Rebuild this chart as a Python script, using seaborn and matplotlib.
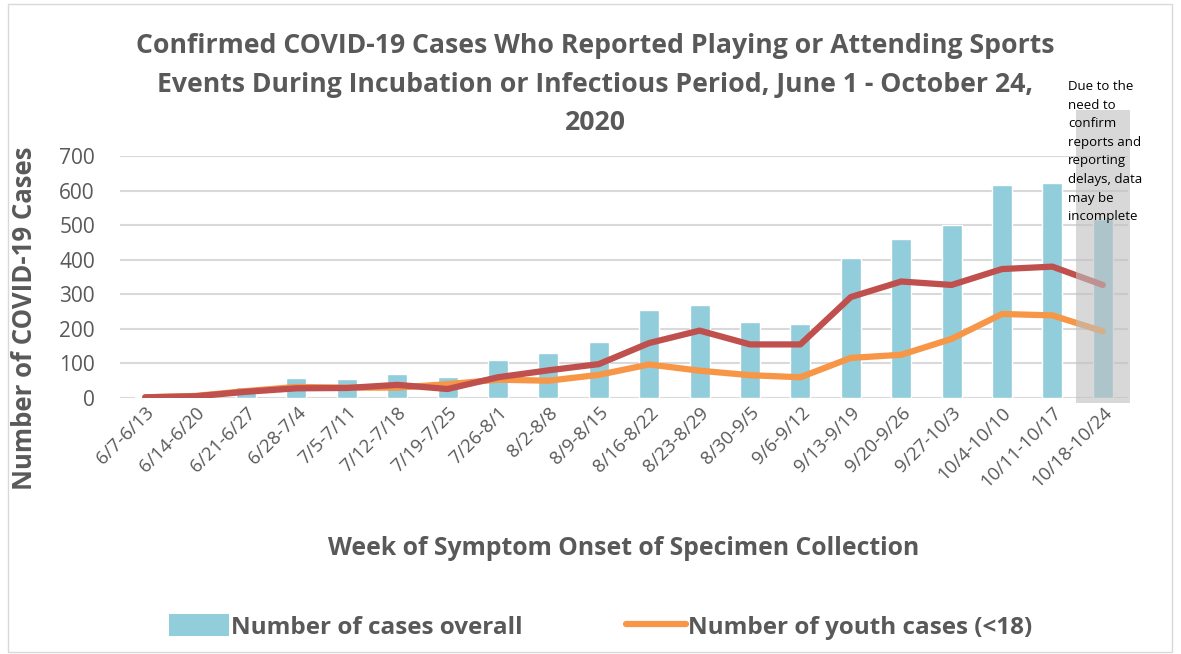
import numpy as np
import pandas as pd
import matplotlib
matplotlib.use("Agg")
import matplotlib.pyplot as plt
import seaborn as sns
from matplotlib.patches import Rectangle, Patch
from matplotlib.lines import Line2D

weeks = ["6/7-6/13", "6/14-6/20", "6/21-6/27", "6/28-7/4", "7/5-7/11", "7/12-7/18",
         "7/19-7/25", "7/26-8/1", "8/2-8/8", "8/9-8/15", "8/16-8/22", "8/23-8/29",
         "8/30-9/5", "9/6-9/12", "9/13-9/19", "9/20-9/26", "9/27-10/3", "10/4-10/10",
         "10/11-10/17", "10/18-10/24"]
overall = [2, 4, 33, 59, 56, 70, 61, 111, 131, 163, 254, 270, 219, 213, 406, 459, 499, 615, 621, 519]
adult = [2, 5, 18, 28, 29, 38, 26, 60, 80, 98, 159, 195, 155, 155, 292, 337, 327, 373, 380, 327]
youth = [2, 6, 20, 32, 30, 30, 40, 53, 50, 67, 97, 79, 66, 60, 116, 125, 171, 243, 239, 193]

BLUE = "#92CDDC"
RED = "#C0504D"
ORANGE = "#F79646"
GREY_TXT = "#595959"

sns.set_theme(style="white")
plt.rcParams['font.family'] = ['Open Sans', 'DejaVu Sans']

fig = plt.figure(figsize=(11.81, 6.54), dpi=100)
ax = fig.add_axes([120/1181, 1 - 398/654, 1008/1181, 242/654])

df = pd.DataFrame({"week": weeks, "overall": overall, "adult": adult, "youth": youth})
df["pos"] = np.arange(len(weeks))

sns.barplot(data=df, x="week", y="overall", color=BLUE, width=0.4, ax=ax,
            saturation=1, zorder=2)
sns.lineplot(data=df, x="pos", y="youth", color=ORANGE, linewidth=4.5, ax=ax, zorder=3)
sns.lineplot(data=df, x="pos", y="adult", color=RED, linewidth=4.5, ax=ax, zorder=4)

ax.set_xlim(-0.5, len(weeks) - 0.5)
ax.set_ylim(0, 700)
ax.set_yticks(np.arange(0, 701, 100))
ax.yaxis.grid(True, color="#D9D9D9", linewidth=1.5, zorder=0)
ax.set_axisbelow(True)
for s in ax.spines.values():
    s.set_visible(False)
ax.tick_params(axis="y", labelsize=15, colors=GREY_TXT, length=0, pad=18)
ax.tick_params(axis="x", labelsize=13.5, colors=GREY_TXT, length=0, pad=4)
ax.set_xticks(np.arange(len(weeks)))
ax.set_xticklabels(weeks, rotation=45, ha="right", rotation_mode="anchor")
ax.set_xlabel("Week of Symptom Onset of Specimen Collection", fontsize=17.8,
              fontweight="bold", color=GREY_TXT, labelpad=32)
ax.set_ylabel("Number of COVID-19 Cases", fontsize=18.5, fontweight="bold",
              color=GREY_TXT)
ax.yaxis.set_label_coords((38 - 120) / 1008, (398 - 318) / 242)

# grey shaded area over the last (incomplete) week
n = len(weeks)
rect = Rectangle((n - 1 - 0.53, -14), 1.07, 848, facecolor="#BFBFBF", alpha=0.6,
                 edgecolor="none", clip_on=False, zorder=6)
ax.add_patch(rect)
fig.text(1068/1181, 1 - 80/654,
         "Due to the\nneed to\nconfirm\nreports and\nreporting\ndelays, data\nmay be\nincomplete",
         fontsize=9.5, color="black", ha="left", va="top", multialignment="left",
         linespacing=1.56)

fig.text(595/1181, 1 - 33/654,
         "Confirmed COVID-19 Cases Who Reported Playing or Attending Sports\n"
         "Events During Incubation or Infectious Period, June 1 - October 24,\n2020",
         fontsize=19.2, fontweight="bold", color=GREY_TXT, ha="center", va="top",
         linespacing=1.63)

handles = [Patch(facecolor=BLUE, edgecolor="none"),
           Line2D([0], [0], color=ORANGE, linewidth=4.5)]
fig.legend(handles, ["Number of cases overall", "Number of youth cases (<18)"],
           loc="center", bbox_to_anchor=(601/1181, 1 - 627/654), ncol=2,
           frameon=False, prop={"size": 17.5, "weight": "bold"}, labelcolor=GREY_TXT,
           handlelength=2.45, handleheight=1.0, handletextpad=0.1, columnspacing=4.25)

fig.patches.append(Rectangle((8/1181, 2/654), 1164/1181, 648/654, transform=fig.transFigure,
                             fill=False, edgecolor="#D9D9D9", linewidth=1))

fig.savefig("out.png", dpi=100)
